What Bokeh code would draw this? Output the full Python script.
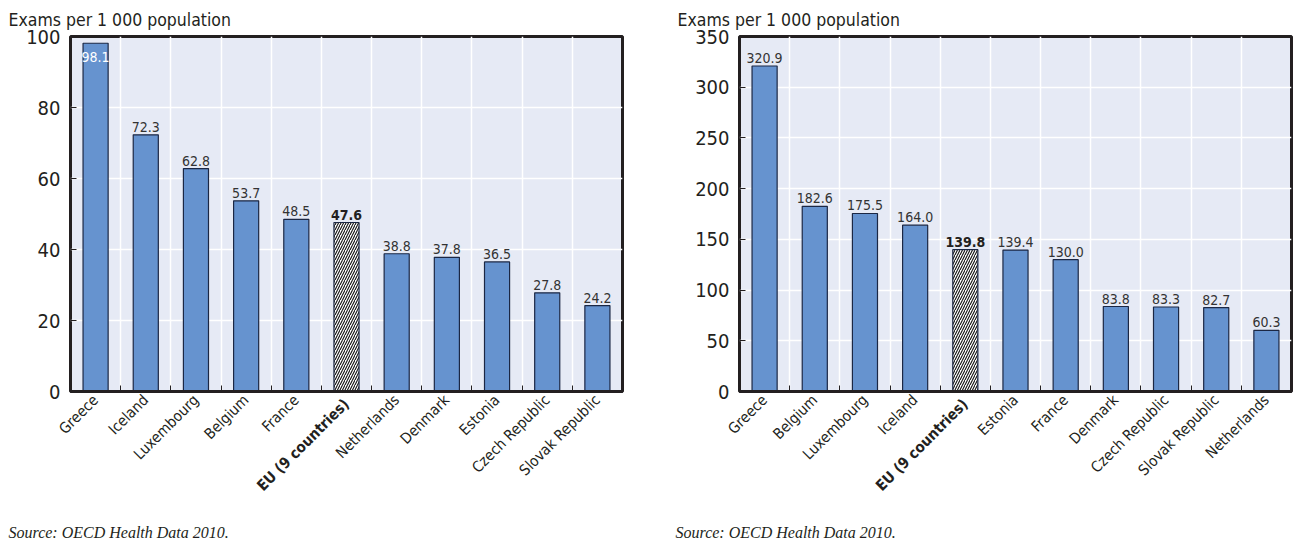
import math
from bokeh.plotting import figure
from bokeh.models import FixedTicker, Range1d, LinearAxis, Title, ColumnDataSource
from bokeh.layouts import row
from bokeh.embed import file_html
from bokeh.resources import INLINE
from bokeh.core.properties import value

# ---------------- data ----------------
left_categories = ["Greece", "Iceland", "Luxembourg", "Belgium", "France", "EU (9 countries)",
                   "Netherlands", "Denmark", "Estonia", "Czech Republic", "Slovak Republic"]
left_values = [98.1, 72.3, 62.8, 53.7, 48.5, 47.6, 38.8, 37.8, 36.5, 27.8, 24.2]
left_y_ticks = [0, 20, 40, 60, 80, 100]

right_categories = ["Greece", "Belgium", "Luxembourg", "Iceland", "EU (9 countries)", "Estonia",
                    "France", "Denmark", "Czech Republic", "Slovak Republic", "Netherlands"]
right_values = [320.9, 182.6, 175.5, 164.0, 139.8, 139.4, 130.0, 83.8, 83.3, 82.7, 60.3]
right_y_ticks = [0, 50, 100, 150, 200, 250, 300, 350]

average_label = "EU (9 countries)"
y_axis_title = "Exams per 1 000 population"
source_note = "Source:  OECD Health Data 2010."

# ---------------- style ----------------
FONT = "DejaVu Sans Condensed"
SERIF = "Liberation Serif"
BAR = "#6693CF"
BAR_LINE = "#1B2744"
BG = "#E6EAF5"
DARK = "#231F20"
HEIGHT = 559
TOP = 36
FRAME_H = 355
LABEL_STANDOFF = 6
AXIS_PANEL = 93   # approx. height of the first x-axis panel (rotated labels)


def style_x_labels(ax, bold=False):
    ax.major_label_orientation = math.pi / 4
    ax.major_label_text_font = FONT
    ax.major_label_text_font_size = "15px"
    ax.major_label_text_color = DARK
    if bold:
        ax.major_label_text_font_style = "bold"


def make_chart(categories, values, yticks, width, border_left, border_right,
               title_offset, source_offset):
    n = len(categories)
    centers = [i + 0.5 for i in range(n)]
    bounds = list(range(n + 1))
    ymax = yticks[-1]
    is_avg = [c == average_label for c in categories]

    p = figure(width=width, height=HEIGHT, x_range=Range1d(0, n), y_range=Range1d(0, ymax),
               output_backend="svg", toolbar_location=None,
               min_border_left=border_left, min_border_right=border_right,
               min_border_top=TOP, min_border_bottom=HEIGHT - TOP - FRAME_H)
    p.background_fill_color = BG
    p.border_fill_color = "white"
    p.outline_line_color = DARK
    p.outline_line_width = 3

    p.xgrid.ticker = FixedTicker(ticks=bounds)
    p.xgrid.grid_line_color = "white"
    p.xgrid.grid_line_width = 1.5
    p.ygrid.ticker = FixedTicker(ticks=yticks)
    p.ygrid.grid_line_color = "white"
    p.ygrid.grid_line_width = 1.5

    src = ColumnDataSource(dict(
        x=centers, top=values,
        fill=["white" if a else BAR for a in is_avg],
        hatch=["/" if a else " " for a in is_avg],
    ))
    p.vbar(x="x", top="top", width=0.5, source=src, fill_color="fill",
           line_color=BAR_LINE, line_width=1.2,
           hatch_pattern="hatch", hatch_color="#111111", hatch_scale=5, hatch_weight=1.1)

    labels = ["%.1f" % v for v in values]
    fits = [v < ymax * 0.93 for v in values]
    norm = dict(x=[], y=[], t=[])
    bold = dict(x=[], y=[], t=[])
    inside = dict(x=[], y=[], t=[])
    for c, v, t, a, f in zip(centers, values, labels, is_avg, fits):
        d = inside if not f else (bold if a else norm)
        d["x"].append(c); d["y"].append(v); d["t"].append(t)
    common = dict(text_align="center", text_font=value(FONT), text_font_size="14px")
    p.text(x="x", y="y", text="t", source=ColumnDataSource(norm), text_baseline="bottom",
           y_offset=-3, text_color="#333333", **common)
    p.text(x="x", y="y", text="t", source=ColumnDataSource(bold), text_baseline="bottom",
           y_offset=-3, text_font_style="bold", text_color=DARK, **common)
    p.text(x="x", y="y", text="t", source=ColumnDataSource(inside), text_baseline="top",
           y_offset=9, text_color="white", **common)

    # main x axis: ticks at category boundaries, labels at centres (EU left blank)
    xa = p.xaxis[0]
    xa.ticker = FixedTicker(ticks=centers, minor_ticks=bounds)
    xa.major_label_overrides = {c: ("" if a else name) for c, name, a in zip(centers, categories, is_avg)}
    xa.major_label_standoff = LABEL_STANDOFF
    style_x_labels(xa)
    xa.major_tick_in = 0
    xa.major_tick_out = 0
    xa.minor_tick_in = 6
    xa.minor_tick_out = 0
    xa.minor_tick_line_color = DARK
    xa.minor_tick_line_width = 1
    xa.axis_line_color = DARK
    xa.axis_line_width = 3

    # second axis carrying only the bold EU label, pulled back up next to the others
    avg_centers = [c for c, a in zip(centers, is_avg) if a]
    xb = LinearAxis(ticker=FixedTicker(ticks=avg_centers, minor_ticks=[]),
                    major_label_overrides={c: nm for c, nm, a in zip(centers, categories, is_avg) if a},
                    major_label_standoff=LABEL_STANDOFF - AXIS_PANEL,
                    axis_line_color=None, major_tick_line_color=None,
                    minor_tick_line_color=None, major_tick_in=0, major_tick_out=0,
                    minor_tick_in=0, minor_tick_out=0)
    style_x_labels(xb, bold=True)
    p.add_layout(xb, "below")

    ya = p.yaxis[0]
    ya.ticker = FixedTicker(ticks=yticks)
    ya.major_tick_in = 6
    ya.major_tick_out = 0
    ya.major_tick_line_color = DARK
    ya.minor_tick_line_color = None
    ya.axis_line_color = None
    ya.major_label_standoff = 10
    ya.major_label_text_font = FONT
    ya.major_label_text_font_size = "20px"
    ya.major_label_text_color = DARK

    p.title.text = y_axis_title
    p.title.align = "left"
    p.title.offset = title_offset
    p.title.standoff = 13
    p.title.text_font = FONT
    p.title.text_font_size = "17.5px"
    p.title.text_font_style = "normal"
    p.title.text_color = DARK

    p.add_layout(Title(text=source_note, align="left", offset=source_offset,
                       text_font=SERIF, text_font_size="16px", text_font_style="italic",
                       text_color=DARK, standoff=36), "below")
    return p


p1 = make_chart(left_categories, left_values, left_y_ticks, 660, 70, 38, -62, -62)
p2 = make_chart(right_categories, right_values, right_y_ticks, 645, 79, 14, -62, -64)

layout = row(p1, p2)
open("out.html", "w").write(file_html(layout, INLINE))
